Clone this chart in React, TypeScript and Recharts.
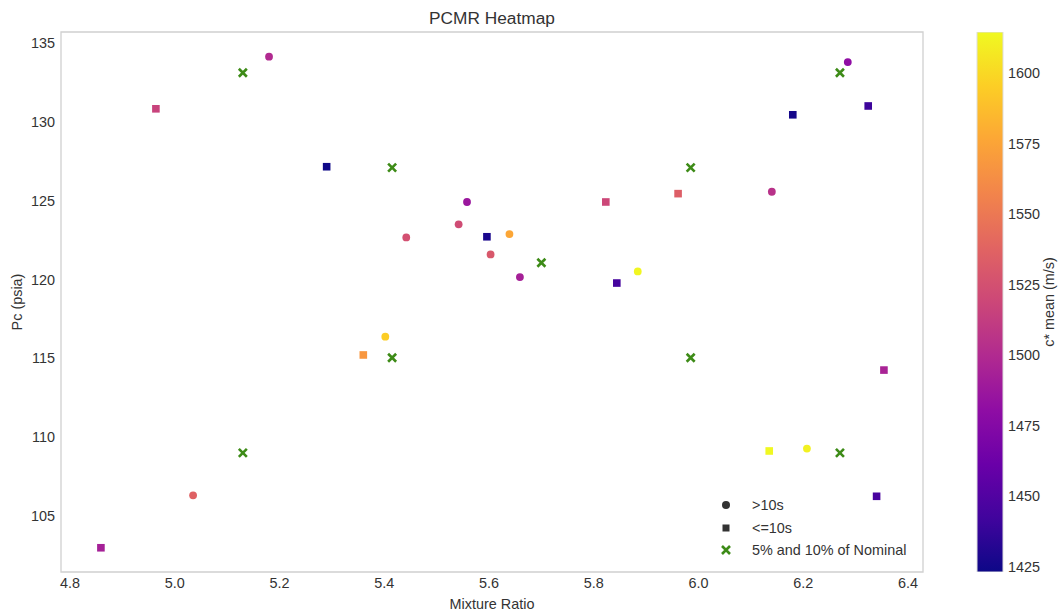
import React from "react";
import { Bar, BarChart, Label, ReferenceArea, Scatter, ScatterChart, XAxis, YAxis } from "recharts";

// >10s runs (circles)
const longMR = [5.18, 6.285, 5.558, 5.442, 5.542, 5.639, 5.603, 5.659, 5.884, 6.14, 5.402, 5.035, 6.207];
const longPc = [134.15, 133.81, 124.92, 122.67, 123.5, 122.88, 121.59, 120.15, 120.51, 125.57, 116.36, 106.28, 109.25];
const longCstar = [1500, 1481, 1487, 1525, 1522, 1576, 1530, 1493, 1613, 1505, 1595, 1536, 1611];

// <=10s runs (squares)
const shortMR = [4.964, 5.29, 5.596, 5.823, 5.961, 5.844, 6.18, 6.324, 5.36, 4.859, 6.354, 6.135, 6.34];
const shortPc = [130.84, 127.16, 122.71, 124.92, 125.45, 119.77, 130.46, 131.02, 115.2, 102.95, 114.24, 109.1, 106.22];
const shortCstar = [1516, 1424, 1428, 1519, 1534, 1444, 1426, 1441, 1568, 1493, 1495, 1614, 1446];

// 5% and 10% of nominal
const nomMR = [5.13, 5.415, 5.985, 6.27, 5.7, 5.415, 5.985, 5.13, 6.27];
const nomPc = [133.13, 127.1, 127.1, 133.13, 121.06, 115.02, 115.02, 108.98, 108.98];

const xTicks = [4.8, 5.0, 5.2, 5.4, 5.6, 5.8, 6.0, 6.2, 6.4];
const yTicks = [105, 110, 115, 120, 125, 130, 135];
const cTicks = [1425, 1450, 1475, 1500, 1525, 1550, 1575, 1600];

const X_DOMAIN: [number, number] = [4.7828, 6.4286];
const Y_DOMAIN: [number, number] = [101.41, 135.72];
const C_DOMAIN: [number, number] = [1423.2, 1614.5];

const PLASMA = [
  "#0d0887", "#41049d", "#6a00a8", "#8f0da4", "#b12a90", "#cc4778",
  "#e16462", "#f2844b", "#fca636", "#fcce25", "#f0f921",
];

const FONT = "'Liberation Sans', Arial, sans-serif";
const TEXT = "#333333";
const GREEN = "#3d8b17";
const FS = 14.4;

function hex(c: string) {
  return [1, 3, 5].map((i) => parseInt(c.slice(i, i + 2), 16));
}

function plasma(v: number) {
  let t = (v - C_DOMAIN[0]) / (C_DOMAIN[1] - C_DOMAIN[0]);
  t = Math.max(0, Math.min(1, t));
  const p = t * (PLASMA.length - 1);
  const i = Math.min(PLASMA.length - 2, Math.floor(p));
  const f = p - i;
  const a = hex(PLASMA[i]);
  const b = hex(PLASMA[i + 1]);
  const rgb = a.map((x, k) => Math.round(x + (b[k] - x) * f));
  return `rgb(${rgb.join(",")})`;
}

const longData = longMR.map((mr, i) => ({ mr, pc: longPc[i], c: longCstar[i] }));
const shortData = shortMR.map((mr, i) => ({ mr, pc: shortPc[i], c: shortCstar[i] }));
const nomData = nomMR.map((mr, i) => ({ mr, pc: nomPc[i] }));
const barData = [{ k: "c*", range: C_DOMAIN }];

const Circle = (p: any) => <circle cx={p.cx} cy={p.cy} r={3.9} fill={plasma(p.payload.c)} />;
const Square = (p: any) => (
  <rect x={p.cx - 3.8} y={p.cy - 3.8} width={7.6} height={7.6} fill={plasma(p.payload.c)} />
);
const Cross = (p: any) => (
  <path
    d={`M${p.cx - 4},${p.cy - 4}L${p.cx + 4},${p.cy + 4}M${p.cx - 4},${p.cy + 4}L${p.cx + 4},${p.cy - 4}`}
    stroke={GREEN}
    strokeWidth={2.6}
    fill="none"
  />
);

const tickStyle = { fontSize: FS, fill: TEXT, fontFamily: FONT };

function LegendBox() {
  const rows = [
    { label: ">10s", icon: <circle cx={7} cy={7} r={4} fill="#333" /> },
    { label: "<=10s", icon: <rect x={3.5} y={3.5} width={7} height={7} fill="#333" /> },
    {
      label: "5% and 10% of Nominal",
      icon: <path d="M3,3L11,11M3,11L11,3" stroke={GREEN} strokeWidth={2.6} fill="none" />,
    },
  ];
  return (
    <div style={{ position: "absolute", left: 719, top: 494, fontFamily: FONT, fontSize: FS, color: TEXT }}>
      {rows.map((r) => (
        <div key={r.label} style={{ display: "flex", alignItems: "center", height: 22.5 }}>
          <svg width={14} height={14} style={{ marginRight: 19 }}>
            {r.icon}
          </svg>
          <span>{r.label}</span>
        </div>
      ))}
    </div>
  );
}

export default function App() {
  return (
    <div
      style={{
        position: "absolute",
        left: 0,
        top: 0,
        width: 1061,
        height: 614,
        background: "#fff",
        fontFamily: FONT,
      }}
    >
      <svg width={0} height={0} style={{ position: "absolute" }}>
        <defs>
          <linearGradient id="plasmaGrad" x1="0" y1="1" x2="0" y2="0">
            {PLASMA.map((c, i) => (
              <stop key={c} offset={`${(i / (PLASMA.length - 1)) * 100}%`} stopColor={c} />
            ))}
          </linearGradient>
        </defs>
      </svg>
      <div
        style={{
          position: "absolute",
          left: 61,
          width: 862,
          top: 7,
          textAlign: "center",
          fontSize: 17.3,
          color: TEXT,
          lineHeight: "22px",
        }}
      >
        PCMR Heatmap
      </div>
      <div style={{ position: "absolute", left: 0, top: 0 }}>
        <ScatterChart width={1061} height={614} margin={{ top: 32, right: 138, bottom: 12, left: 0 }}>
          <XAxis
            type="number"
            dataKey="mr"
            domain={X_DOMAIN}
            ticks={xTicks}
            allowDataOverflow
            tickFormatter={(v: number) => v.toFixed(1)}
            height={30}
            tickSize={0}
            tickMargin={6}
            axisLine={false}
            tickLine={false}
            tick={tickStyle}
          >
            <Label
              content={(props: any) => {
                const vb = props.viewBox || { x: 61, y: 572, width: 862, height: 30 };
                return (
                  <text
                    x={vb.x + vb.width / 2}
                    y={vb.y + 32}
                    textAnchor="middle"
                    dominantBaseline="central"
                    fontSize={FS}
                    fill={TEXT}
                  >
                    Mixture Ratio
                  </text>
                );
              }}
            />
          </XAxis>
          <YAxis
            type="number"
            dataKey="pc"
            domain={Y_DOMAIN}
            ticks={yTicks}
            allowDataOverflow
            width={61}
            tickSize={0}
            tickMargin={6}
            axisLine={false}
            tickLine={false}
            tick={tickStyle}
          >
            <Label
              content={(props: any) => {
                const vb = props.viewBox || { x: 0, y: 32, width: 61, height: 540 };
                const x = vb.x + 17;
                const y = vb.y + vb.height / 2;
                return (
                  <text
                    x={x}
                    y={y}
                    transform={`rotate(-90, ${x}, ${y})`}
                    textAnchor="middle"
                    dominantBaseline="central"
                    fontSize={FS}
                    fill={TEXT}
                  >
                    Pc (psia)
                  </text>
                );
              }}
            />
          </YAxis>
          <ReferenceArea
            x1={X_DOMAIN[0]}
            x2={X_DOMAIN[1]}
            y1={Y_DOMAIN[0]}
            y2={Y_DOMAIN[1]}
            fill="none"
            fillOpacity={0}
            stroke="#d0d0d0"
            strokeWidth={1.3}
            ifOverflow="visible"
          />
          <Scatter name=">10s" data={longData} shape={Circle} isAnimationActive={false} />
          <Scatter name="<=10s" data={shortData} shape={Square} isAnimationActive={false} />
          <Scatter name="5% and 10% of Nominal" data={nomData} shape={Cross} isAnimationActive={false} />
        </ScatterChart>
      </div>
      <LegendBox />
      <div style={{ position: "absolute", left: 940, top: 0 }}>
        <BarChart
          width={121}
          height={614}
          data={barData}
          margin={{ top: 32, right: 0, bottom: 42, left: 37 }}
          barCategoryGap={0}
          barGap={0}
        >
          <XAxis type="category" dataKey="k" hide height={0} />
          <YAxis
            type="number"
            orientation="right"
            domain={C_DOMAIN}
            ticks={cTicks}
            allowDataOverflow
            width={58}
            tickSize={0}
            tickMargin={5}
            axisLine={false}
            tickLine={false}
            tick={tickStyle}
          >
            <Label
              content={(props: any) => {
                const vb = props.viewBox || { x: 63, y: 32, width: 58, height: 540 };
                const x = vb.x + vb.width - 12;
                const y = vb.y + vb.height / 2;
                return (
                  <text
                    x={x}
                    y={y}
                    transform={`rotate(-90, ${x}, ${y})`}
                    textAnchor="middle"
                    dominantBaseline="central"
                    fontSize={FS}
                    fill={TEXT}
                  >
                    c* mean (m/s)
                  </text>
                );
              }}
            />
          </YAxis>
          <Bar
            dataKey="range"
            fill="url(#plasmaGrad)"
            stroke="#dddddd"
            strokeWidth={1}
            isAnimationActive={false}
          />
        </BarChart>
      </div>
    </div>
  );
}
